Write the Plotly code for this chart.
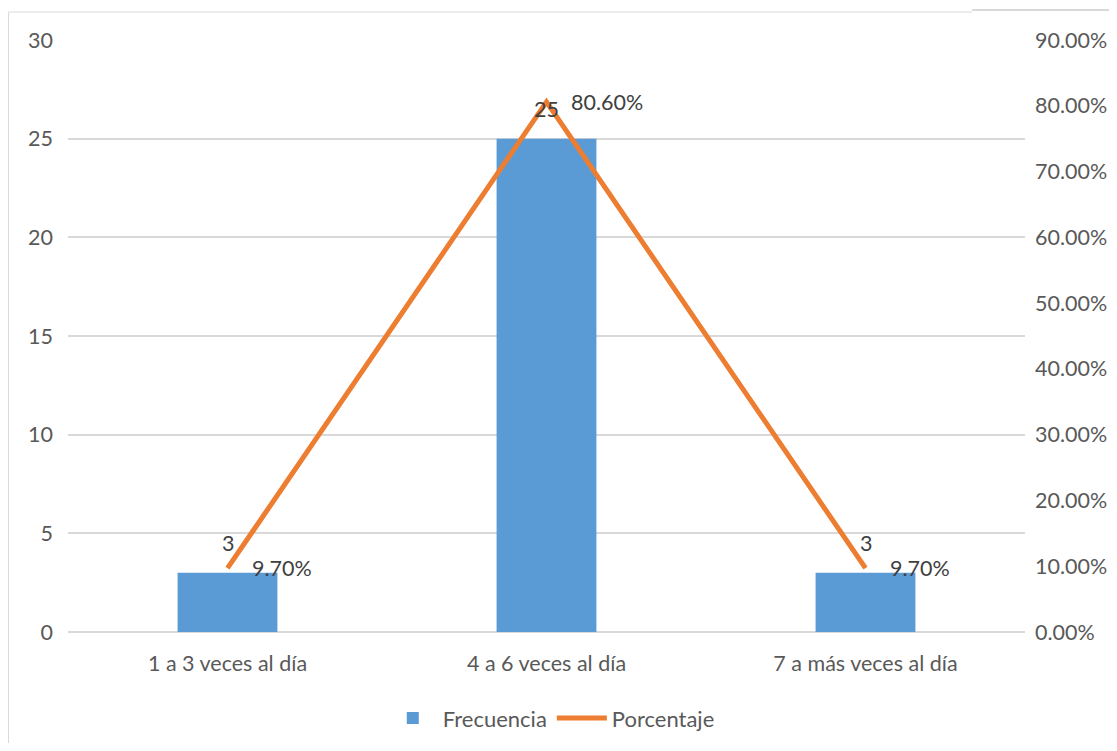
import plotly.graph_objects as go

categories = ["1 a 3 veces al día", "4 a 6 veces al día", "7 a más veces al día"]
frecuencia = [3, 25, 3]
porcentaje = [0.097, 0.806, 0.097]
pct_labels = ["9.70%", "80.60%", "9.70%"]

BLUE = "#5B9BD5"
ORANGE = "#ED7D31"
TXT = "#595959"
GRID = "#D9D9D9"
FONT = "Lato"
FS = 21.5

fig = go.Figure()
fig.add_trace(go.Bar(x=categories, y=frecuencia, name="Frecuencia",
                     marker=dict(color=BLUE, line=dict(width=0)), width=0.313,
                     yaxis="y"))
fig.add_trace(go.Scatter(x=categories, y=porcentaje, name="Porcentaje",
                         mode="lines", line=dict(color=ORANGE, width=5),
                         yaxis="y2"))

annotations = []
for c, v in zip(categories, frecuencia):
    annotations.append(dict(x=c, y=v, xref="x", yref="y", text=str(v),
                            showarrow=False, yanchor="bottom", yshift=15,
                            font=dict(family=FONT, size=FS, color="#404040")))
for c, p, t in zip(categories, porcentaje, pct_labels):
    annotations.append(dict(x=c, y=p, xref="x", yref="y2", text=t,
                            showarrow=False, xanchor="left", xshift=22,
                            yanchor="middle",
                            font=dict(family=FONT, size=FS, color="#404040")))

# page body has an 8px margin; work in reference pixel coords minus offset
OFF = 8
W, H = 1117 - 2 * OFF, 751 - 2 * OFF
L, T = 68 - OFF, 40 - OFF
pw, ph = 957, 592
R = W - L - pw
B = H - T - ph

def px_x(px):
    return (px - OFF - L) / pw

def px_y(py):
    return (T + ph - (py - OFF)) / ph

shapes = [
    dict(type="line", xref="paper", yref="paper", x0=px_x(8), x1=px_x(8),
         y0=px_y(12), y1=px_y(751), line=dict(color=GRID, width=2)),
    dict(type="line", xref="paper", yref="paper", x0=px_x(8), x1=px_x(972),
         y0=px_y(12), y1=px_y(12), line=dict(color="#E6E6E6", width=1.5)),
    dict(type="line", xref="paper", yref="paper", x0=px_x(972), x1=px_x(1117),
         y0=px_y(10), y1=px_y(10), line=dict(color=GRID, width=2)),
]

fig.update_layout(
    width=W, height=H,
    margin=dict(l=L, r=R, t=T, b=B, autoexpand=False),
    paper_bgcolor="white", plot_bgcolor="white",
    font=dict(family=FONT, size=FS, color=TXT),
    showlegend=True,
    legend=dict(orientation="h", x=0.505, xanchor="center", y=-0.11,
                yanchor="top", font=dict(family=FONT, size=22, color=TXT),
                itemwidth=50, traceorder="normal"),
    xaxis=dict(showgrid=False, showline=False, ticks="", automargin=False,
               tickfont=dict(family=FONT, size=FS, color=TXT),
               ticklabelstandoff=16),
    yaxis=dict(range=[0, 30], dtick=5, showgrid=True, gridcolor=GRID,
               gridwidth=1.5, zeroline=True, zerolinecolor=GRID,
               zerolinewidth=1.5, showline=False, ticks="", automargin=False,
               tickfont=dict(family=FONT, size=FS, color=TXT),
               ticklabelstandoff=14),
    yaxis2=dict(range=[0, 0.9], dtick=0.1, tickformat=".2%", overlaying="y",
                side="right", showgrid=False, zeroline=False, showline=False,
                ticks="", automargin=False,
                tickfont=dict(family=FONT, size=FS, color=TXT),
                ticklabelstandoff=9),
    annotations=annotations,
    shapes=shapes,
)

fig.write_html("out.html")
